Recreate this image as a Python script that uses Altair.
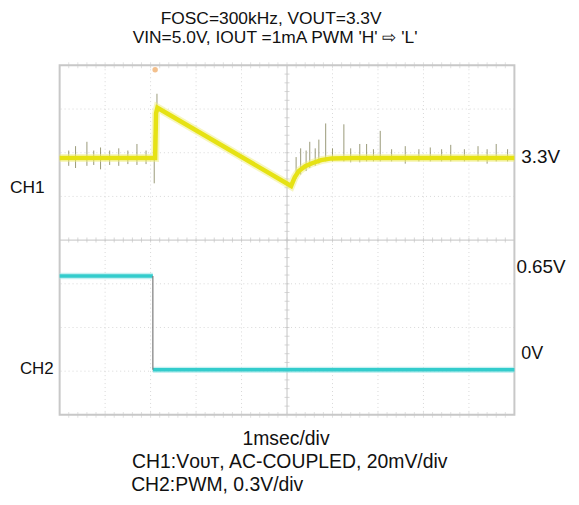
import altair as alt
import pandas as pd

# ---- data (time in divisions of 1 ms, amplitude in screen divisions) ----
ch1_t = [0.0, 2.10, 2.12, 2.15, 5.09, 5.17, 5.26, 5.40, 5.55, 5.75, 5.98, 6.5, 10.0]
ch1_v = [5.88, 5.88, 6.90, 7.03, 5.24, 5.44, 5.58, 5.69, 5.76, 5.83, 5.87, 5.88, 5.88]

ch2_seg = ["high", "high", "low", "low"]
ch2_t = [0.0, 2.05, 2.05, 10.0]
ch2_v = [3.18, 3.18, 1.03, 1.03]

# noise spikes on CH1 (time, top, bottom)
spike_t = [0.2, 0.35, 0.6, 0.75, 0.9, 1.1, 1.3, 1.5, 1.7, 1.9, 2.08, 2.14,
           5.2, 5.3, 5.42, 5.5, 5.62, 5.7, 5.85, 6.0, 6.25, 6.4, 6.6, 6.75, 6.9,
           7.05, 7.3, 7.6, 7.9, 8.15, 8.4, 8.6, 8.9, 9.2, 9.4, 9.6, 9.85]
spike_top = [6.05, 6.15, 6.25, 6.05, 6.12, 6.05, 6.1, 6.05, 6.2, 6.05, 6.4, 7.35,
             5.9, 6.1, 6.05, 6.25, 6.1, 6.3, 6.67, 6.1, 6.65, 6.1, 6.2, 6.2, 6.08,
             6.5, 6.08, 6.15, 6.08, 6.12, 6.08, 6.18, 6.08, 6.15, 6.08, 6.2, 6.08]
spike_bot = [5.7, 5.65, 5.7, 5.72, 5.62, 5.72, 5.7, 5.74, 5.72, 5.74, 5.3, 6.5,
             5.4, 5.5, 5.58, 5.65, 5.7, 5.75, 5.8, 5.8, 5.8, 5.78, 5.78, 5.8, 5.8,
             5.8, 5.8, 5.75, 5.8, 5.8, 5.8, 5.8, 5.8, 5.8, 5.75, 5.8, 5.8]

trigger_t = [2.1]
trigger_v = [7.9]

grid_x = [1, 2, 3, 4, 6, 7, 8, 9]
grid_y = [1, 2, 3, 5, 6, 7]

label_text = ["CH1", "CH2", "3.3V", "0.65V", "0V"]
label_level = [5.2, 1.05, 5.9, 3.38, 1.39]

W, H = 458, 352
xs = alt.Scale(domain=[0, 10], nice=False, zero=False)
ys = alt.Scale(domain=[0, 8], nice=False, zero=False)


def X(f):
    return alt.X(f, type="quantitative", scale=xs, axis=None)


def Y(f):
    return alt.Y(f, type="quantitative", scale=ys, axis=None)


FONT = "Liberation Sans"

vgrid = alt.Chart(pd.DataFrame({"x": grid_x})).mark_rule(
    color="#d8d8d8", strokeDash=[1, 3], strokeWidth=1).encode(x=X("x"))
hgrid = alt.Chart(pd.DataFrame({"y": grid_y})).mark_rule(
    color="#d8d8d8", strokeDash=[1, 3], strokeWidth=1).encode(y=Y("y"))

center_v = alt.Chart(pd.DataFrame({"x": [5]})).mark_rule(color="#c4c4c4", strokeWidth=1).encode(x=X("x"))
center_h = alt.Chart(pd.DataFrame({"y": [4]})).mark_rule(color="#c4c4c4", strokeWidth=1).encode(y=Y("y"))

minor_x = [i / 5 for i in range(1, 50)]
minor_y = [i / 5 for i in range(1, 40)]


def hticks(level, color, size):
    df = pd.DataFrame({"x": minor_x, "y": [level] * len(minor_x)})
    return alt.Chart(df).mark_tick(color=color, orient="vertical", size=size, thickness=1).encode(
        x=X("x"), y=Y("y"))


tick_h = hticks(4, "#c4c4c4", 5)
tick_top = hticks(8, "#d4d4d4", 6)
tick_bot = hticks(0, "#d4d4d4", 6)
tick_v = alt.Chart(pd.DataFrame({"y": minor_y, "x": [5] * len(minor_y)})).mark_tick(
    color="#c4c4c4", orient="horizontal", size=5, thickness=1).encode(y=Y("y"), x=X("x"))

border = alt.Chart(pd.DataFrame({"x": [0], "x2": [10], "y": [0], "y2": [8]})).mark_rect(
    fillOpacity=0, stroke="#c8c8c8", strokeWidth=2
).encode(x=X("x"), x2="x2", y=Y("y"), y2="y2")

trigger = alt.Chart(pd.DataFrame({"t": trigger_t, "v": trigger_v})).mark_point(
    shape="circle", filled=True, size=30, color="#f0b070", opacity=0.8).encode(x=X("t"), y=Y("v"))

# CH2
ch2 = pd.DataFrame({"seg": ch2_seg, "t": ch2_t, "v": ch2_v})
ch2_halo = alt.Chart(ch2).mark_line(color="#9fe6e8", strokeWidth=6.5, opacity=0.6).encode(
    x=X("t"), y=Y("v"), detail="seg:N")
ch2_line = alt.Chart(ch2).mark_line(color="#33cccc", strokeWidth=3.5).encode(
    x=X("t"), y=Y("v"), detail="seg:N")
ch2_edge = alt.Chart(pd.DataFrame({"t": [ch2_t[1]], "a": [ch2_v[2]], "b": [ch2_v[1]]})).mark_rule(
    color="#7a7a7a", strokeWidth=1.2).encode(x=X("t"), y=Y("a"), y2="b")

# CH1
ch1 = pd.DataFrame({"t": ch1_t, "v": ch1_v})
sp = pd.DataFrame({"t": spike_t, "a": spike_bot, "b": spike_top})
spikes = alt.Chart(sp).mark_rule(color="#6f6f40", strokeWidth=1, opacity=0.7).encode(
    x=X("t"), y=Y("a"), y2="b")
ch1_halo = alt.Chart(ch1).mark_line(color="#efed80", strokeWidth=8, opacity=0.5).encode(x=X("t"), y=Y("v"))
ch1_line = alt.Chart(ch1).mark_line(color="#e6e214", strokeWidth=4.5).encode(x=X("t"), y=Y("v"))

# level labels (y from the data scale, x is layout)
label_dx = [-50, -40, 465, 460, 465]
label_size = [17.5, 17, 19, 19, 18]


def level_label(i):
    df = pd.DataFrame({"s": [label_text[i]], "v": [label_level[i]]})
    return alt.Chart(df).mark_text(
        font=FONT, fontSize=label_size[i], color="#111111", align="left", baseline="middle"
    ).encode(text="s:N", x=alt.value(label_dx[i]), y=Y("v"))


labels = [level_label(i) for i in range(len(label_text))]


def txt(s, x, y, size=16, align="left"):
    return alt.Chart(pd.DataFrame({"s": [s]})).mark_text(
        font=FONT, fontSize=size, color="#111111", align=align, baseline="middle"
    ).encode(text="s:N", x=alt.value(x), y=alt.value(y))


t1 = txt("FOSC=300kHz, VOUT=3.3V", 213, -47, 17.5, "center")
t2 = txt("VIN=5.0V, IOUT =1mA PWM 'H' \u21e8 'L'", 217, -27, 17.5, "center")
b1 = txt("1msec/div", 228, 376, 19.5, "center")
b2 = txt("CH1:V\u1d0f\u1d1c\u1d1b, AC-COUPLED, 20mV/div", 73, 400, 19.5)
b3 = txt("CH2:PWM, 0.3V/div", 72, 423, 19.5)

chart = alt.layer(
    vgrid, hgrid, center_v, center_h, tick_h, tick_v, tick_top, tick_bot, border, trigger,
    ch2_halo, ch2_line, ch2_edge,
    spikes, ch1_halo, ch1_line,
    *labels, t1, t2, b1, b2, b3,
).properties(
    width=W, height=H,
    autosize=alt.AutoSizeParams(type="none"),
    padding={"left": 52, "top": 56, "right": 57, "bottom": 85},
    background="white",
).configure_view(stroke=None)

chart.save("out.html", embed_options={"renderer": "svg", "actions": False})
